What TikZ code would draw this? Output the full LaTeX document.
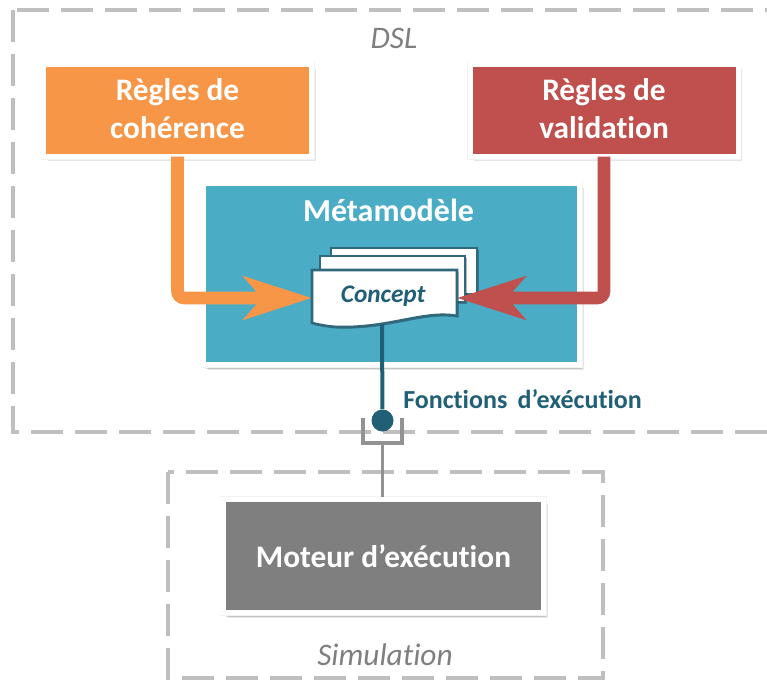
\documentclass[tikz,border=0pt]{standalone}
\usepackage{fontspec}
\setmainfont{Carlito}[Ligatures={NoCommon,TeX}]
\usetikzlibrary{arrows.meta,shadows,calc}
\definecolor{orangeC}{HTML}{F79646}
\definecolor{redC}{HTML}{C0504D}
\definecolor{blueC}{HTML}{4BACC6}
\definecolor{greyC}{HTML}{7F7F7F}
\definecolor{dashC}{HTML}{BFBFBF}
\definecolor{tealC}{HTML}{215F76}
\definecolor{edgeC}{HTML}{31687C}
\pgfdeclarelayer{back}\pgfdeclarelayer{mid}\pgfdeclarelayer{wave}
\pgfsetlayers{back,mid,wave,main}
\newcommand{\twolines}[2]{\raisebox{-7.4pt}[0pt][0pt]{\begin{tabular}{@{}c@{}}#1\\[1.6pt]#2\end{tabular}}}
\tikzset{
  x=.75pt,y=-.75pt,
  panel/.style={draw=white,line width=3.75pt,outer sep=0pt,inner sep=0pt,align=center,text=white,
    font=\fontsize{23.5}{27}\selectfont\bfseries,
    general shadow={shadow xshift=3pt,shadow yshift=-3.7pt,opacity=.1,fill=black},
    general shadow={shadow xshift=2.2pt,shadow yshift=-2.9pt,opacity=.14,fill=black},
    preaction={draw=black!5,line width=4.5pt}},
  frame/.style={draw=dashC,line width=2.4pt,dash pattern=on 24pt off 9pt},
  framelabel/.style={font=\fontsize{23.5}{24}\selectfont\itshape,text=greyC,inner sep=0pt},
  sheet/.style={draw=edgeC,fill=white,line width=2pt,drop shadow={shadow xshift=1.2pt,shadow yshift=-1.2pt,opacity=.3,fill=black}},
  flow/.style={line width=9.4pt,rounded corners=5pt,-{Stealth[length=51pt,width=32pt,inset=13.5pt]}},
  socket/.style={draw=greyC!85,line width=2.8pt},
  wire/.style={draw=tealC,line width=3pt},
}
\begin{document}
\begin{tikzpicture}
\useasboundingbox (0,0) rectangle (767,679);
\clip (0,0) rectangle (767,679);
\begin{pgfonlayer}{back}
  \draw[frame] (13,10) rectangle (775,432);
  \draw[frame] (168,472) rectangle (603,678);
  \node[panel,fill=blueC,minimum width=282pt,minimum height=136pt,anchor=north west] (meta) at (203.5,183.5) {};
  \node[panel,fill=orangeC,minimum width=201pt,minimum height=69pt] (orange) at (177.5,110.5) {\twolines{Règles de}{cohérence}};
  \node[panel,fill=redC,minimum width=201pt,minimum height=69pt] (red) at (604,110.5) {\twolines{Règles de}{validation}};
  \node[panel,fill=greyC,minimum width=240pt,minimum height=85pt] (engine) at (383.5,556) {Moteur d’exécution};
  \node[font=\fontsize{24}{24}\selectfont\bfseries,text=white,inner sep=0pt] (metatitle) at (388.5,210) {Métamodèle};
  \draw[sheet] (331,248) rectangle (477,294);
  \draw[sheet] (320,256) rectangle (465,302);
\end{pgfonlayer}
\node[minimum width=108.75pt,minimum height=42pt,inner sep=0pt,outer sep=0pt,font=\fontsize{19}{18}\selectfont\bfseries\itshape,text=tealC] (concept) at (384.5,298) {\raisebox{5pt}{\hspace*{-2pt}Concept}};
\coordinate (concepttail) at (382,324);
\begin{pgfonlayer}{mid}
  \draw[flow,draw=orangeC] (orange.south) |- (concept.west);
  \draw[flow,draw=redC] (red.south) |- (concept.east);
\end{pgfonlayer}
\begin{pgfonlayer}{wave}
  \draw[sheet] (concept.north west) -- (concept.north east) -- (457,316)
    .. controls (425,310) and (390,328) .. (340,327)
    .. controls (330,327) and (320,325) .. (312,323) -- cycle;
\end{pgfonlayer}
\node[circle,fill=tealC,minimum size=16.5pt,inner sep=0pt] (ball) at (382.5,420.5) {};
\draw[wire] (concepttail) -- (ball);
\coordinate (cupL) at (363,418);
\coordinate (cupR) at (402,418);
\coordinate (cupB) at (382.5,443);
\draw[socket] (cupL) |- (cupB) -| (cupR);
\coordinate (stemEnd) at (382.5,497);
\draw[socket] (cupB) -- (stemEnd);
\node[font=\fontsize{19.5}{20}\selectfont\bfseries,text=tealC,anchor=west,inner sep=0pt] (fx) at (403,399) {Fonctions\, d’exécution};
\node[framelabel] (dsl) at (394,38) {DSL};
\node[framelabel] (sim) at (385,655) {Simulation};
\end{tikzpicture}
\end{document}
